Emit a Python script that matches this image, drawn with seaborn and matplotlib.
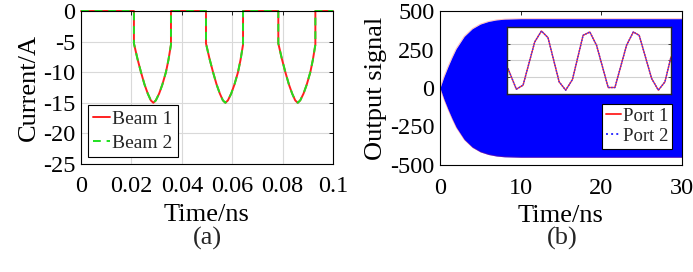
import numpy as np
import pandas as pd
import matplotlib
matplotlib.use("Agg")
import matplotlib.pyplot as plt
from matplotlib.lines import Line2D
import seaborn as sns

# ---------------- data ----------------
# Panel (a): beam current pulses
time_a = [0.0, 0.0210, 0.0210, 0.0224, 0.0238, 0.0252, 0.0265, 0.0277, 0.0287, 0.0297, 0.0310, 0.0323, 0.0337, 0.0347, 0.0357, 0.0357,
          0.0496, 0.0496, 0.0510, 0.0524, 0.0538, 0.0551, 0.0563, 0.0573, 0.0583, 0.0596, 0.0609, 0.0623, 0.0633, 0.0643, 0.0643,
          0.0783, 0.0783, 0.0797, 0.0811, 0.0825, 0.0838, 0.0850, 0.0860, 0.0870, 0.0883, 0.0896, 0.0910, 0.0920, 0.0930, 0.0930, 0.1]
beam1 = [0, 0, -5.3, -7.8, -10.0, -12.0, -13.5, -14.6, -15.0, -14.6, -13.5, -12.0, -10.0, -8.0, -5.5, 0,
         0, -5.3, -7.8, -10.0, -12.0, -13.5, -14.6, -15.0, -14.6, -13.5, -12.0, -10.0, -8.0, -5.5, 0,
         0, -5.3, -7.8, -10.0, -12.0, -13.5, -14.6, -15.0, -14.6, -13.5, -12.0, -10.0, -8.0, -5.5, 0, 0]
beam2 = list(beam1)
xticks_a = [0, 0.02, 0.04, 0.06, 0.08, 0.1]
xticklabels_a = ["0", "0.02", "0.04", "0.06", "0.08", "0.1"]
yticks_a = [0, -5, -10, -15, -20, -25]

# Panel (b): envelope of output signal (dense oscillation)
time_env = [0, 0.5, 1, 1.5, 2, 3, 4, 5, 6, 7, 8, 10, 30]
amp_env = [0, 75, 140, 200, 255, 335, 385, 415, 432, 442, 447, 450, 450]
yticks_b = [500, 250, 0, -250, -500]
xticks_b = [0, 10, 20, 30]

# Inset: zoomed-in waveform (normalized time)
t_inset = [0.006, 0.057, 0.098, 0.169, 0.210, 0.250, 0.318, 0.358, 0.399, 0.464, 0.505,
           0.546, 0.617, 0.658, 0.729, 0.770, 0.806, 0.882, 0.923, 0.963, 1.0]
port1_inset = [-100, -348, -300, 220, 352, 272, -260, -360, -232, 300, 340,
               180, -328, -328, 180, 340, 300, -220, -360, -260, 40]
port2_inset = list(port1_inset)

# ---------------- style ----------------
sns.set_theme(style="white")
plt.rcParams['font.family'] = ['Liberation Serif', 'DejaVu Serif']
plt.rcParams['axes.unicode_minus'] = False

TICK_FS = 17.5
LAB_FS = 19

fig = plt.figure(figsize=(6.93, 2.72), dpi=100)
ax_a = fig.add_axes([81/693, 1-164/272, (333-81)/693, (164-11)/272])
ax_b = fig.add_axes([440/693, 1-165/272, (682-440)/693, (165-11)/272])


def matlab_axes(ax):
    for s in ax.spines.values():
        s.set_color('black')
        s.set_linewidth(0.8)
        s.set_visible(True)
    ax.tick_params(direction='in', length=3, width=0.6, top=True, right=True,
                   labelsize=TICK_FS, colors='black')
    ax.tick_params(axis='x', pad=9)
    ax.tick_params(axis='y', pad=4)
    ax.set_facecolor('white')


# Panel (a)
df_a = pd.DataFrame({"t": time_a, "b1": beam1, "b2": beam2})
ax_a.grid(True, color='#d9d9d9', linewidth=0.8)
ax_a.set_axisbelow(True)
sns.lineplot(data=df_a, x="t", y="b1", ax=ax_a, color='#ff2020', lw=1.4,
             estimator=None, sort=False, legend=False)
sns.lineplot(data=df_a, x="t", y="b2", ax=ax_a, color='#20e020', lw=1.4,
             estimator=None, sort=False, legend=False, linestyle=(0, (4, 3)))
for ln in ax_a.lines:
    ln.set_clip_on(False)
ax_a.set_xlim(0, 0.1)
ax_a.set_ylim(-25, 0)
ax_a.set_xticks(xticks_a)
ax_a.set_xticklabels(xticklabels_a)
ax_a.set_yticks(yticks_a)
ax_a.set_yticklabels([str(v) for v in yticks_a])
matlab_axes(ax_a)
ax_a.set_xlabel("Time/ns", fontsize=LAB_FS, labelpad=5, color='black')
ax_a.set_ylabel("Current/A", fontsize=LAB_FS, labelpad=2, color='black')
h_a = [Line2D([], [], color='#ff2020', lw=1.4),
       Line2D([], [], color='#20e020', lw=1.4, linestyle=(0, (4, 3)))]
leg_a = ax_a.legend(h_a, ["Beam 1", "Beam 2"], loc='lower left', fontsize=14,
                    frameon=True, fancybox=False, edgecolor='black', framealpha=1,
                    handlelength=0.85, handletextpad=0.1, borderpad=0.28,
                    labelspacing=0.3, borderaxespad=0.35)
leg_a.get_frame().set_linewidth(0.8)

# Panel (b)
upper = np.array(amp_env, dtype=float)
ax_b.fill_between(time_env, -upper, upper, color='#0000ff', linewidth=0)
env_df = pd.DataFrame({"t": time_env, "up": upper, "lo": -upper})
sns.lineplot(data=env_df, x="t", y="up", ax=ax_b, color='#ff3030', lw=0.6,
             alpha=0.35, estimator=None, sort=False)
sns.lineplot(data=env_df, x="t", y="lo", ax=ax_b, color='#ff3030', lw=0.6,
             alpha=0.35, estimator=None, sort=False)
ax_b.set_xlim(0, 30)
ax_b.set_ylim(-500, 500)
ax_b.set_xticks(xticks_b)
ax_b.set_xticklabels([str(v) for v in xticks_b])
ax_b.set_yticks(yticks_b)
ax_b.set_yticklabels([str(v) for v in yticks_b])
matlab_axes(ax_b)
ax_b.set_xlabel("Time/ns", fontsize=LAB_FS, labelpad=5, color='black')
ax_b.set_ylabel("Output signal", fontsize=LAB_FS, labelpad=2, color='black')
h_b = [Line2D([], [], color='#ff3030', lw=1.4),
       Line2D([], [], color='#3030ff', lw=1.4, linestyle=':')]
leg_b = ax_b.legend(h_b, ["Port 1", "Port 2"], loc='lower right', fontsize=13.5,
                    frameon=True, fancybox=False, edgecolor='black', framealpha=1,
                    handlelength=0.8, handletextpad=0.1, borderpad=0.2,
                    labelspacing=0.15, borderaxespad=0.55,
                    bbox_to_anchor=(1.0, 0.04))
leg_b.get_frame().set_linewidth(0.8)

# Inset
ax_in = fig.add_axes([507/693, 1-93.5/272, (671-507)/693, (93.5-27)/272])
df_in = pd.DataFrame({"t": t_inset, "p1": port1_inset, "p2": port2_inset})
ax_in.grid(True, axis='y', color='#d0d0d0', linewidth=0.8)
ax_in.set_axisbelow(True)
sns.lineplot(data=df_in, x="t", y="p1", ax=ax_in, color='#ff3030', lw=1.0,
             estimator=None, sort=False)
sns.lineplot(data=df_in, x="t", y="p2", ax=ax_in, color='#3030ff', lw=1.0,
             linestyle=(0, (1, 1)), estimator=None, sort=False)
ax_in.set_xlim(0, 1)
ax_in.set_ylim(-400, 400)
ax_in.set_yticks([-200, 0, 200])
ax_in.set_xticks([])
ax_in.set_yticklabels([])
ax_in.set_xlabel("")
ax_in.set_ylabel("")
ax_in.set_facecolor('white')
for s in ax_in.spines.values():
    s.set_color('#262626')
    s.set_linewidth(1.0)
    s.set_visible(True)
ax_in.tick_params(direction='in', length=2, width=0.6, left=True, right=True,
                  colors='#262626')

fig.text(207/693, 1-238/272, "(a)", ha='center', va='center', fontsize=LAB_FS)
fig.text(562/693, 1-238/272, "(b)", ha='center', va='center', fontsize=LAB_FS)

fig.savefig("out.png", dpi=100, facecolor='white')
